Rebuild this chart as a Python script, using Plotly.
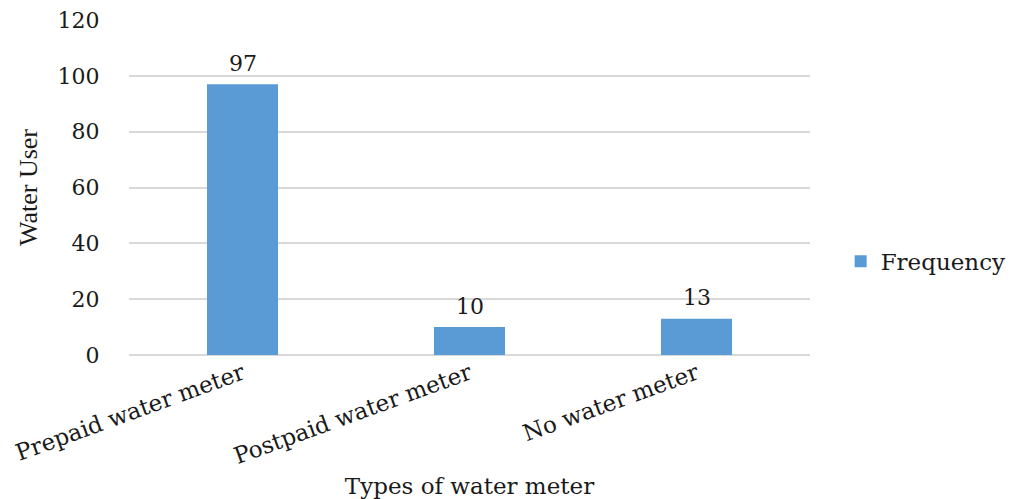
import plotly.graph_objects as go

# Water meter survey: number of water users per meter type
categories = ["Prepaid water meter", "Postpaid water meter", "No water meter"]
frequency = [97, 10, 13]
y_ticks = [0, 20, 40, 60, 80, 100, 120]

FONT = "DejaVu Serif"
BAR_BLUE = "#5B9BD5"
GRID = "#D9D9D9"
INK = "#1a1a1a"

fig = go.Figure()
fig.add_trace(go.Bar(
    x=categories,
    y=frequency,
    name="Frequency",
    marker=dict(color=BAR_BLUE, line=dict(width=0)),
))

# value labels sitting above each bar
for cat, val in zip(categories, frequency):
    fig.add_annotation(
        x=cat, y=val, xref="x", yref="y",
        text=str(val), showarrow=False,
        yanchor="middle", yshift=21,
        font=dict(family=FONT, size=22, color=INK),
    )

fig.update_layout(
    width=1015,
    height=499,
    margin=dict(l=129, r=205, t=20, b=144, autoexpand=False),
    paper_bgcolor="white",
    plot_bgcolor="white",
    bargap=0.687,
    font=dict(family=FONT, size=22, color=INK),
    showlegend=True,
    legend=dict(
        x=1.045, xanchor="left", y=0.28, yanchor="middle",
        font=dict(family=FONT, size=23, color=INK),
        itemwidth=30,
    ),
    xaxis=dict(
        tickangle=-20,
        tickfont=dict(family=FONT, size=23, color=INK),
        showgrid=False,
        showline=False,
        ticks="",
        automargin=False,
        title=dict(text="Types of water meter", font=dict(family=FONT, size=23, color=INK), standoff=14),
    ),
    yaxis=dict(
        range=[0, 120],
        tickvals=y_ticks,
        tickfont=dict(family=FONT, size=22, color=INK),
        showgrid=True,
        gridcolor=GRID,
        gridwidth=1.5,
        zeroline=True,
        zerolinecolor=GRID,
        zerolinewidth=1.5,
        showline=False,
        ticks="outside",
        ticklen=24,
        tickcolor="rgba(0,0,0,0)",
        automargin=False,
        title=dict(text="Water User", font=dict(family="Liberation Serif", size=26, color=INK), standoff=12),
    ),
)

fig.write_html("out.html")
